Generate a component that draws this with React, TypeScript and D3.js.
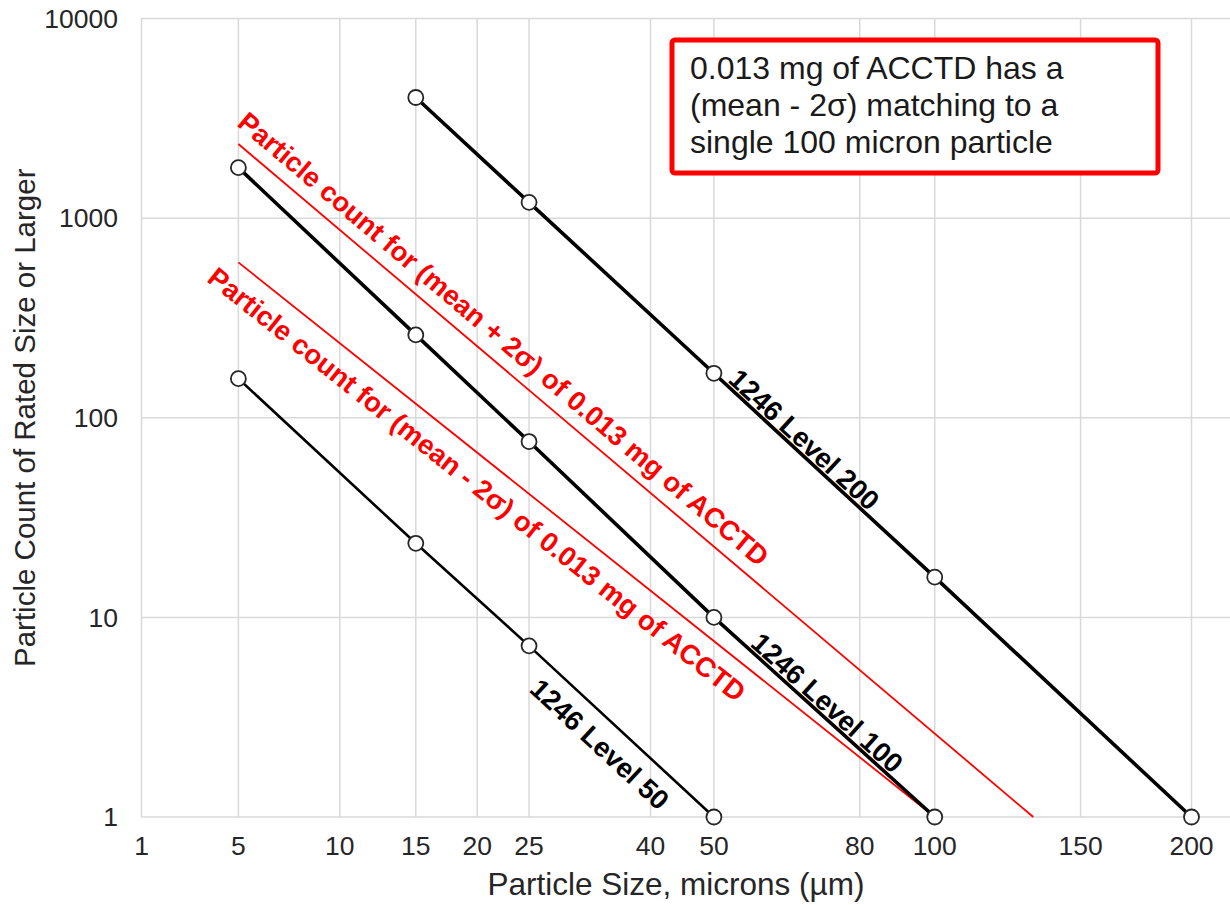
import React from "react";
import * as d3 from "d3";

// axis ticks
const xTicks = [1, 5, 10, 15, 20, 25, 40, 50, 80, 100, 150, 200];
const yTicks = [1, 10, 100, 1000, 10000];

// MIL-STD-1246 cleanliness levels (size in microns, count)
const level50Size = [5, 15, 25, 50];
const level50Count = [157, 23.5, 7.2, 1];
const level100Size = [5, 15, 25, 50, 100];
const level100Count = [1790, 260, 76, 10, 1];
const level200Size = [15, 25, 50, 100, 200];
const level200Count = [4020, 1200, 167, 15.9, 1];

// ACCTD lines
const plusSize = [5, 132];
const plusCount = [2350, 1];
const minusSize = [5, 100];
const minusCount = [600, 1];

const annotationLines = [
  "0.013 mg of ACCTD has a",
  "(mean - 2\u03c3) matching to a",
  "single 100 micron particle",
];

const FONT = "'Liberation Sans', Arial, sans-serif";

export default function App() {
  const width = 1230;
  const height = 905;
  const left = 141.5;
  const right = 1230;
  const top = 18.5;
  const bottom = 817;

  // x is linear in log10(size)^2
  const sq = (v: number) => Math.log10(v) ** 2;
  const xLin = d3.scaleLinear().domain([0, sq(200)]).range([left, 1191.5]);
  const x = (v: number) => xLin(sq(v));
  const y = d3.scaleLog().domain([1, 10000]).range([bottom, top]);

  const line = d3
    .line<[number, number]>()
    .x((d) => x(d[0]))
    .y((d) => y(d[1]));

  const pts = (s: number[], c: number[]) => s.map((v, i) => [v, c[i]] as [number, number]);

  const series = [
    { data: pts(level50Size, level50Count), w: 2.6 },
    { data: pts(level100Size, level100Count), w: 3.6 },
    { data: pts(level200Size, level200Count), w: 3.6 },
  ];

  // place text parallel to a segment
  const along = (a: [number, number], b: [number, number], s: number, off: number) => {
    const p0 = [x(a[0]), y(a[1])];
    const p1 = [x(b[0]), y(b[1])];
    const dx = p1[0] - p0[0];
    const dy = p1[1] - p0[1];
    const L = Math.hypot(dx, dy);
    const ux = dx / L, uy = dy / L;
    const px = p0[0] + ux * s + uy * off;
    const py = p0[1] + uy * s - ux * off;
    const ang = (Math.atan2(dy, dx) * 180) / Math.PI;
    return `translate(${px},${py}) rotate(${ang})`;
  };

  const cap = 19.7;
  const labels = [
    { t: "Particle count for (mean + 2\u03c3) of 0.013 mg of ACCTD", a: [5, 2350], b: [132, 1], s: -14, off: 13, c: "#ff0000" },
    { t: "Particle count for (mean - 2\u03c3) of 0.013 mg of ACCTD", a: [5, 600], b: [100, 1], s: -14, off: -(15 + cap), c: "#ff0000" },
    { t: "1246 Level 200", a: [50, 167], b: [100, 15.9], s: 15, off: 3, c: "#000" },
    { t: "1246 Level 100", a: [50, 10], b: [100, 1], s: 45, off: 3, c: "#000" },
    { t: "1246 Level 50", a: [25, 7.2], b: [50, 1], s: 30, off: -(14 + cap), c: "#000" },
  ];

  return (
    <svg
      width={width}
      height={height}
      style={{ position: "absolute", left: 0, top: 0, background: "#fff" }}
      fontFamily={FONT}
    >
      {/* grid */}
      <g stroke="#d9d9d9" strokeWidth={1.5}>
        {yTicks.map((t) => (
          <line key={"gy" + t} x1={left} x2={right} y1={y(t)} y2={y(t)} />
        ))}
        {xTicks.map((t) => (
          <line key={"gx" + t} x1={x(t)} x2={x(t)} y1={top} y2={bottom} />
        ))}
      </g>

      {/* tick labels */}
      {yTicks.map((t) => (
        <text key={"ly" + t} x={118} y={y(t)} dy="0.35em" textAnchor="end" fontSize={26.5} fill="#262626">
          {t}
        </text>
      ))}
      {xTicks.map((t) => (
        <text key={"lx" + t} x={x(t)} y={855} textAnchor="middle" fontSize={26.5} fill="#262626">
          {t}
        </text>
      ))}

      {/* axis titles */}
      <text x={676} y={895} textAnchor="middle" fontSize={31.5} fill="#262626">
        Particle Size, microns (µm)
      </text>
      <text
        transform={`translate(35,${(top + bottom) / 2}) rotate(-90)`}
        textAnchor="middle"
        fontSize={29.5}
        fill="#262626"
      >
        Particle Count of Rated Size or Larger
      </text>

      {/* red ACCTD lines */}
      <path d={line(pts(plusSize, plusCount)) || ""} fill="none" stroke="#ff0000" strokeWidth={1.8} />
      <path d={line(pts(minusSize, minusCount)) || ""} fill="none" stroke="#ff0000" strokeWidth={1.8} />

      {/* level lines */}
      {series.map((s, i) => (
        <path key={"s" + i} d={line(s.data) || ""} fill="none" stroke="#000" strokeWidth={s.w} />
      ))}
      {series.map((s, i) =>
        s.data.map((d, j) => (
          <circle key={`m${i}-${j}`} cx={x(d[0])} cy={y(d[1])} r={7.5} fill="#fff" stroke="#262626" strokeWidth={1.8} />
        ))
      )}

      {/* line labels */}
      {labels.map((l, i) => (
        <text
          key={"t" + i}
          transform={along(l.a as [number, number], l.b as [number, number], l.s, l.off)}
          fontSize={27.5}
          fontWeight="bold"
          fill={l.c}
        >
          {l.t}
        </text>
      ))}

      {/* annotation box */}
      <rect x={672} y={40} width={486} height={133} rx={3} fill="#fff" stroke="#ff0000" strokeWidth={5} />
      {annotationLines.map((t, i) => (
        <text key={"a" + i} x={690} y={79 + i * 37} fontSize={32} fill="#1a1a1a">
          {t}
        </text>
      ))}
    </svg>
  );
}
